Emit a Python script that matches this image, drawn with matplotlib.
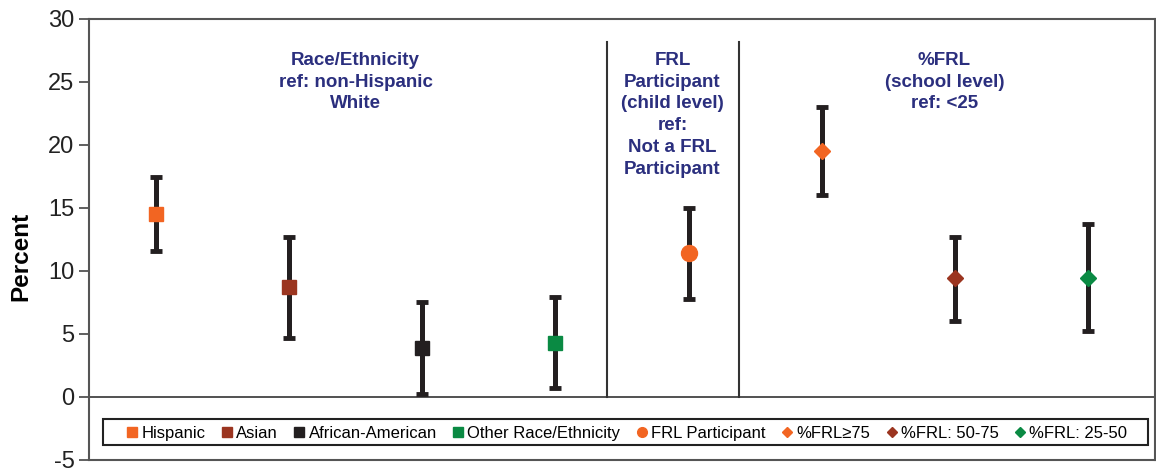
import numpy as np
import matplotlib
matplotlib.use("Agg")
import matplotlib.pyplot as plt
from matplotlib.patches import Rectangle

plt.rcParams['font.family'] = ['Liberation Sans', 'DejaVu Sans']
plt.rcParams['axes.unicode_minus'] = False

# adjusted percentages with 95% CI
labels = ["Hispanic", "Asian", "African-American", "Other Race/Ethnicity",
          "FRL Participant", "%FRL\u226575", "%FRL: 50-75", "%FRL: 25-50"]
estimate = [14.5, 8.7, 3.9, 4.3, 11.4, 19.5, 9.45, 9.45]
ci_low = [11.6, 4.7, 0.2, 0.7, 7.8, 16.0, 6.0, 5.2]
ci_high = [17.45, 12.7, 7.55, 7.9, 15.0, 23.0, 12.7, 13.7]
markers = ["s", "s", "s", "s", "o", "D", "D", "D"]
colors = ["#F26522", "#9B3520", "#231F20", "#0A8A43",
          "#F26522", "#F26522", "#9B3520", "#0A8A43"]

group_titles = ["Race/Ethnicity\nref: non-Hispanic\nWhite",
                "FRL\nParticipant\n(child level)\nref:\nNot a FRL\nParticipant",
                "%FRL\n(school level)\nref: <25"]
group_x = [2.0, 4.38, 6.42]
separators = [3.885, 4.88]

fig = plt.figure(figsize=(11.56, 4.70), dpi=100)
ax = fig.add_axes([0.077, 0.0213, 0.922, 0.9383])

xs = np.arange(len(labels)) + 0.5
handles = []
for i in range(len(labels)):
    err = [[estimate[i] - ci_low[i]], [ci_high[i] - estimate[i]]]
    ms = 10 if markers[i] == "s" else (11.5 if markers[i] == "o" else 8.5)
    ax.errorbar(xs[i], estimate[i], yerr=err, fmt="none", ecolor="#231F20",
                elinewidth=3.6, capsize=4.5, capthick=3.5, zorder=2)
    ax.plot(xs[i], estimate[i], marker=markers[i], ms=ms, color=colors[i],
            ls="none", zorder=3)
    lms = 6.5 if markers[i] == "s" else (7 if markers[i] == "o" else 5)
    h, = ax.plot([], [], marker=markers[i], ms=lms, color=colors[i], ls="none",
                 label=labels[i])
    handles.append(h)

ax.axhline(0, color="#333333", lw=1.2, zorder=1)
for s in separators:
    ax.plot([s, s], [0, 28.2], color="#333333", lw=1.5, zorder=1)

for t, gx in zip(group_titles, group_x):
    ax.text(gx, 27.4, t, ha="center", va="top", fontsize=13.5, fontweight="bold",
            color="#2B2F7E", linespacing=1.37)

ax.set_xlim(0, 8)
ax.set_ylim(-5, 30)
ax.set_yticks(np.arange(-5, 31, 5))
ax.set_xticks([])
ax.tick_params(axis="y", labelsize=17, length=7, width=1.2, color="#444444",
               labelcolor="#222222")
for sp in ax.spines.values():
    sp.set_color("#555555")
    sp.set_linewidth(1.5)
ax.set_ylabel("Percent", fontsize=17.5, fontweight="bold")
ax.yaxis.set_label_coords(-0.0535, 0.4626)

# legend box drawn separately so the entries can sit inside with side padding
ax.add_patch(Rectangle((0.013, 0.034), 0.981, 0.059, transform=ax.transAxes,
                       fill=False, edgecolor="#222222", lw=1.5, zorder=4))
leg = ax.legend(handles=handles, ncol=8, loc="lower left",
                bbox_to_anchor=(0.029, 0.034, 0.949, 0.059), mode="expand",
                borderaxespad=0, fontsize=12, frameon=False,
                handletextpad=0.05, handlelength=1.0, columnspacing=0.5,
                borderpad=0.25)

fig.savefig("out.png", dpi=100)
